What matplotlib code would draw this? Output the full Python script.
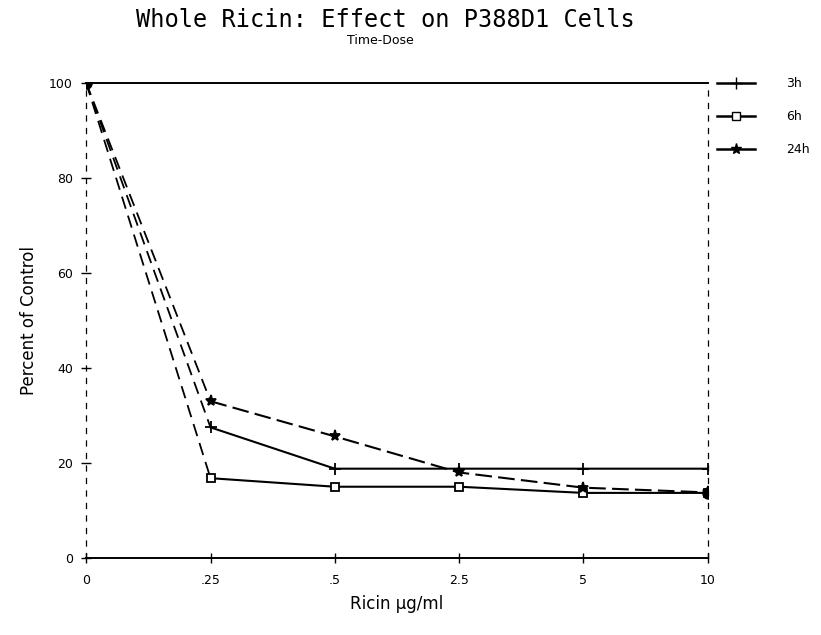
import matplotlib.pyplot as plt

plt.rcParams['font.family'] = ['DejaVu Sans']

doses = ["0", ".25", ".5", "2.5", "5", "10"]
pct_3h = [100, 27.5, 18.8, 18.8, 18.8, 18.8]
pct_6h = [100, 16.8, 15.0, 15.0, 13.7, 13.7]
pct_24h = [100, 33.0, 25.6, 18.0, 14.8, 13.8]

xpos = list(range(len(doses)))

fig = plt.figure(figsize=(8.21, 6.35), dpi=100)
ax = fig.add_axes([0.105, 0.1213, 0.757, 0.748])

series = [
    (pct_3h, "3h", "+", "-", 9),
    (pct_6h, "6h", "s", "-", 6),
    (pct_24h, "24h", "*", (0, (8, 3)), 8),
]
for vals, lab, mk, ls, ms in series:
    # first drop drawn dashed
    ax.plot(xpos[:2], vals[:2], color="black", ls=(0, (7, 4)), lw=1.3)
    ax.plot(xpos[1:], vals[1:], color="black", ls=ls, lw=1.5,
            marker=mk, ms=ms, mfc="white" if mk == "s" else "black", mew=1.3)
    ax.plot([], [], color="black", lw=1.8, marker=mk, ms=ms,
            mfc="white" if mk == "s" else "black", label=lab)

# blobs at start and end
ax.plot(xpos[0], 100, "o", color="black", ms=8)
ax.plot(xpos[-1], pct_6h[-1], "o", color="black", ms=8)

ax.set_xlim(0, 5)
ax.set_ylim(0, 100)
ax.set_xticks(xpos)
ax.set_xticklabels(doses)
ax.set_yticks([0, 20, 40, 60, 80, 100])
ax.tick_params(direction="inout", length=7, width=1, labelsize=9)
ax.tick_params(axis="x", pad=8)
ax.tick_params(axis="y", pad=6)

for side in ["left", "right"]:
    ax.spines[side].set_linestyle((0, (4, 6)))
    ax.spines[side].set_linewidth(0.9)
for side in ["top", "bottom"]:
    ax.spines[side].set_linewidth(1.4)

ax.set_xlabel("Ricin µg/ml", fontsize=12, labelpad=6)
ax.set_ylabel("Percent of Control", fontsize=12, labelpad=8)

fig.text(0.47, 0.958, "Whole Ricin: Effect on P388D1 Cells", ha="center",
         va="baseline", fontsize=17, family="DejaVu Sans Mono")
fig.text(0.463, 0.936, "Time-Dose", ha="center", va="center", fontsize=9)

ax.legend(loc="upper left", bbox_to_anchor=(1.015, 1.012), frameon=False,
          borderpad=0, borderaxespad=0, handlelength=3.0, labelspacing=1.6,
          fontsize=9, handletextpad=2.5)

fig.savefig("out.png", dpi=100)
